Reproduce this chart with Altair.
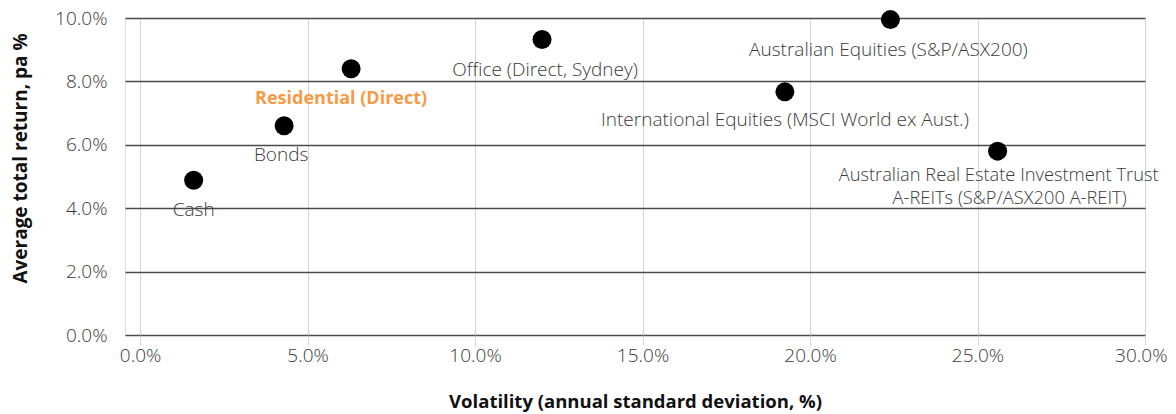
import altair as alt
import pandas as pd

# ---- data ----
assets = [
    "Cash",
    "Bonds",
    "Residential (Direct)",
    "Office (Direct, Sydney)",
    "Australian Equities  (S&P/ASX200)",
    "International Equities (MSCI World ex Aust.)",
    "Australian Real Estate Investment Trust\nA-REITs (S&P/ASX200 A-REIT)",
]
volatility = [1.6, 4.3, 6.3, 12.0, 22.4, 19.25, 25.6]
avg_return = [4.88, 6.6, 8.4, 9.32, 9.95, 7.67, 5.8]
x_ticks = [0, 5, 10, 15, 20, 25, 30]
y_ticks = [0, 2, 4, 6, 8, 10]

df = pd.DataFrame({"asset": assets, "vol": volatility, "ret": avg_return})

FONT = "Open Sans"
TXT = "#3a3a3a"
FS = 19

x_enc = alt.X(
    "vol:Q",
    scale=alt.Scale(domain=[-0.45, 30], nice=False, zero=False),
    axis=alt.Axis(
        values=x_ticks,
        labelExpr="format(datum.value, '.1f') + '%'",
        title="Volatility (annual standard deviation, %)",
        grid=True, gridColor="#d4d4d4", gridWidth=1,
        ticks=True, tickColor="#d4d4d4", tickSize=10,
        domain=False, labelFlush=True, labelFlushOffset=22,
        labelFont=FONT, labelFontSize=FS, labelFontWeight=300, labelColor=TXT,
        labelPadding=1,
        titleFont=FONT, titleFontSize=18.5, titleFontWeight="bold", titleColor="#111",
        titlePadding=27,
    ),
)
y_enc = alt.Y(
    "ret:Q",
    scale=alt.Scale(domain=[0, 10], nice=False),
    axis=alt.Axis(
        values=y_ticks,
        labelExpr="format(datum.value, '.1f') + '%'",
        title="Average total return, pa %",
        grid=True, gridColor="#4a4a4a", gridWidth=1.5,
        ticks=False, domain=False, labelFlush=False,
        labelFont=FONT, labelFontSize=FS, labelFontWeight=300, labelColor=TXT,
        labelPadding=18,
        titleFont=FONT, titleFontSize=19, titleFontWeight="bold", titleColor="#111",
        titleX=-95, titleY=140,
    ),
)

base = alt.Chart(df)

points = base.mark_circle(size=360, color="#000", opacity=1).encode(x=x_enc, y=y_enc)

# label offsets (style)
offsets = {
    "Cash": (0, 30),
    "Bonds": (-3, 29),
    "Office (Direct, Sydney)": (3, 30),
    "Australian Equities  (S&P/ASX200)": (-2, 30),
    "International Equities (MSCI World ex Aust.)": (0, 28),
}

layers = [points]
for name, (dx, dy) in offsets.items():
    layers.append(
        base.transform_filter(alt.datum.asset == name)
        .mark_text(font=FONT, fontSize=FS, fontWeight=300, color=TXT, dx=dx, dy=dy,
                   baseline="middle", align="center")
        .encode(x="vol:Q", y="ret:Q", text="asset:N")
    )

layers.append(
    base.transform_filter(alt.datum.asset == "Residential (Direct)")
    .mark_text(font=FONT, fontSize=18, fontWeight="bold", color="#F79A45", dx=-10, dy=30,
               baseline="middle", align="center")
    .encode(x="vol:Q", y="ret:Q", text="asset:N")
)

# two-line A-REIT label, each line placed separately
for i, (dx, dy) in enumerate([(1, 25), (12, 48)]):
    layers.append(
        base.transform_filter(alt.datum.asset == assets[-1])
        .transform_calculate(line=f"split(datum.asset, '\\n')[{i}]")
        .mark_text(font=FONT, fontSize=18.3, fontWeight=300, color=TXT, dx=dx, dy=dy,
                   baseline="middle", align="center")
        .encode(x="vol:Q", y="ret:Q", text="line:N")
    )

chart = (
    alt.layer(*layers)
    .properties(
        width=1020,
        height=317,
        autosize=alt.AutoSizeParams(type="none"),
        padding={"left": 117, "top": 10, "right": 23, "bottom": 79},
    )
    .configure_view(stroke=None)
    .configure(background="white")
)

chart.save("out.html", embed_options={"renderer": "svg", "actions": False})
